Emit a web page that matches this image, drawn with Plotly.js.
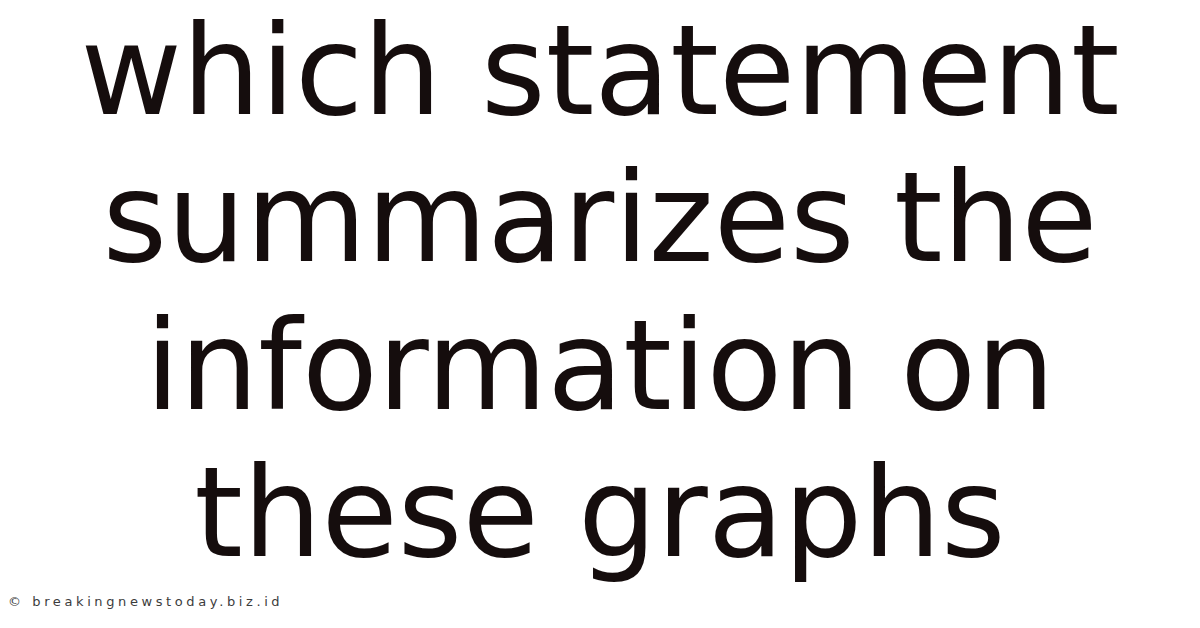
<!DOCTYPE html>
<html>
<head>
<meta charset="utf-8">
<script src="https://cdn.plot.ly/plotly-3.0.1.min.js"></script>
<style>
  html, body { margin: 0; padding: 0; background: #fff; }
  #grafica { width: 1200px; height: 628px; }
  /* the watermark in the reference is widely spaced */
  #grafica .annotation-text { letter-spacing: 3.6px; }
</style>
</head>
<body>
<div id="grafica"></div>
<script>
const lineas = ['which statement', 'summarizes the', 'information on', 'these graphs'];
const posiciones = [0, 1, 2, 3];
const marcaAgua = '© breakingnewstoday.biz.id';

const trazaTitulo = {
  x: lineas.map(() => 0),
  y: posiciones,
  text: lineas,
  type: 'scatter',
  mode: 'text',
  textposition: 'middle center',
  textfont: { family: 'DejaVu Sans', size: 124, color: '#150d0d' },
  hoverinfo: 'skip',
  showlegend: false
};

const layout = {
  width: 1200,
  height: 628,
  margin: { l: 0, r: 0, t: 0, b: 0 },
  paper_bgcolor: '#ffffff',
  plot_bgcolor: '#ffffff',
  xaxis: { range: [-1, 1], visible: false, fixedrange: true },
  yaxis: { range: [3.700, -0.5635], visible: false, fixedrange: true },
  annotations: [{
    text: marcaAgua,
    xref: 'paper',
    yref: 'paper',
    x: 0.005,
    y: 0.042,
    xanchor: 'left',
    yanchor: 'middle',
    align: 'left',
    showarrow: false,
    font: { family: 'DejaVu Sans', size: 13, color: '#3c3c3c' }
  }]
};

Plotly.newPlot('grafica', [trazaTitulo], layout, { displayModeBar: false, staticPlot: true });
</script>
</body>
</html>
